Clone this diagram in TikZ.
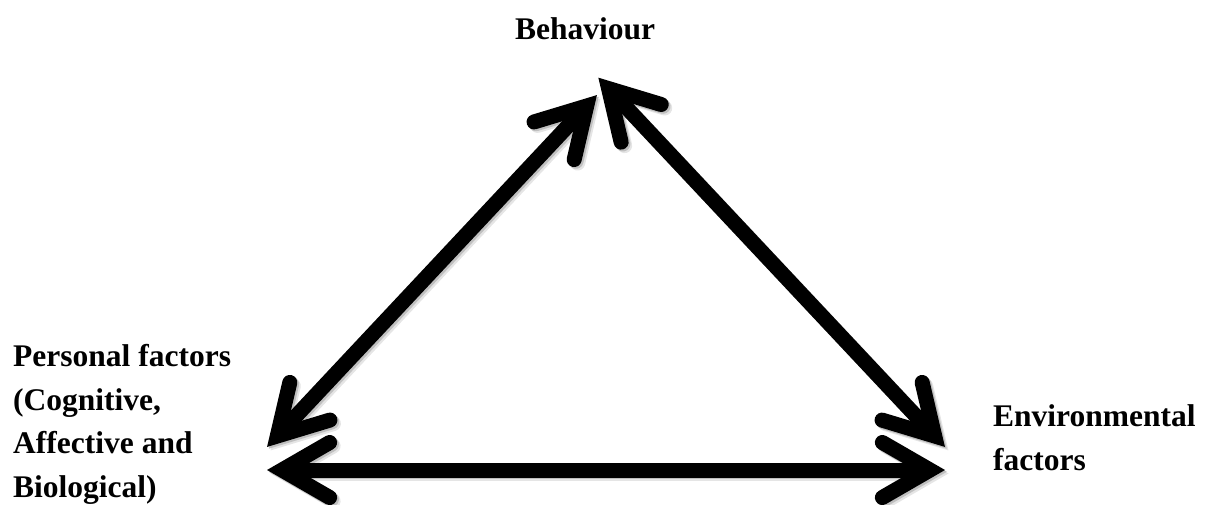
\documentclass[tikz,border=0pt]{standalone}
\usepackage{fontspec}
\setmainfont{Liberation Serif}
\usetikzlibrary{calc}
\tikzset{
  lbl/.style={font=\bfseries\fontsize{31.5}{43.5}\selectfont, inner sep=0pt, align=left},
  shaft/.style={line width=15pt, line cap=butt},
  head/.style={line width=15pt, line cap=round, line join=miter},
}
\newcommand\headat[3]{\draw[head,#3] ($(#1)!55pt!30:(#2)$) -- (#1) -- ($(#1)!55pt!-30:(#2)$);}
\newcommand\twoway[3]{\draw[shaft,#3] (#1) -- (#2);\headat{#1}{#2}{#3}\headat{#2}{#1}{#3}}
\begin{document}
\begin{tikzpicture}[x=1pt,y=-1pt]
\useasboundingbox (0,0) rectangle (1211,505);
\node[lbl, anchor=base west] (B) at (515,40) {Behaviour};
\node[lbl, anchor=base west] (P) at (13,497) {Personal factors\\(Cognitive,\\Affective and\\Biological)};
\node[lbl, anchor=base west] (E) at (993,470) {Environmental\\factors};
\coordinate (b1) at (586.7,106);
\coordinate (p1) at (277.3,436);
\coordinate (b2) at (608.6,88.6);
\coordinate (e1) at (934.7,436);
\coordinate (p2) at (282,470);
\coordinate (e2) at (930,470);
\begin{scope}[transform canvas={shift={(3.5,3.5)}}]
\twoway{p1}{b1}{black!10}
\twoway{b2}{e1}{black!10}
\twoway{p2}{e2}{black!10}
\end{scope}
\begin{scope}[transform canvas={shift={(1.8,1.8)}}]
\twoway{p1}{b1}{black!25}
\twoway{b2}{e1}{black!25}
\twoway{p2}{e2}{black!25}
\end{scope}
\twoway{p1}{b1}{black}
\twoway{b2}{e1}{black}
\twoway{p2}{e2}{black}
\end{tikzpicture}
\end{document}
